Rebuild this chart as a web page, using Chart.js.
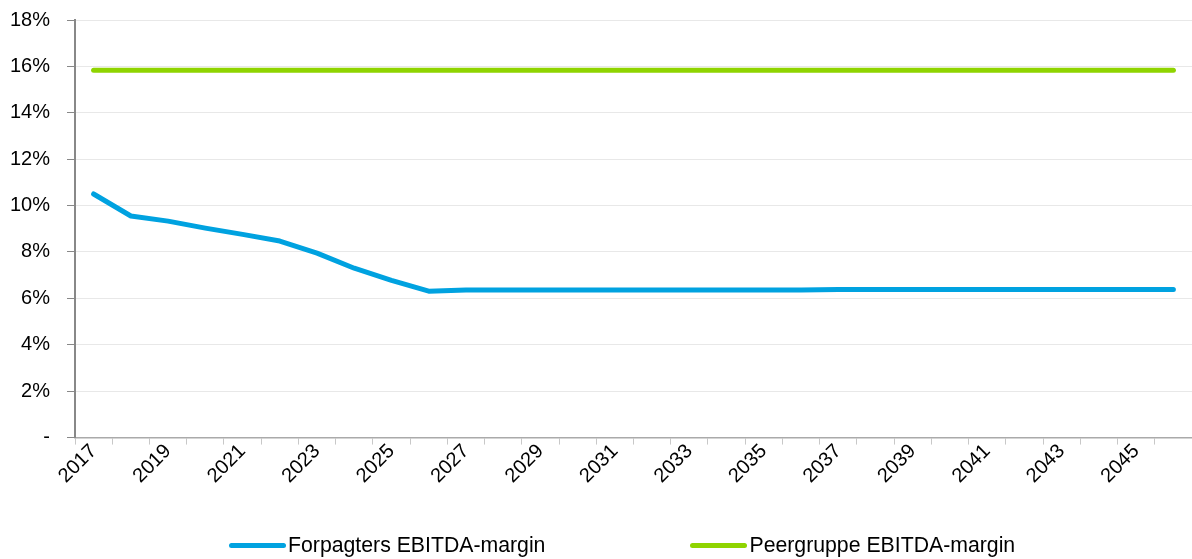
<!DOCTYPE html>
<html>
<head>
<meta charset="utf-8">
<script src="https://cdn.jsdelivr.net/npm/chart.js@4.4.1/dist/chart.umd.min.js"></script>
<style>
  html, body { margin: 0; padding: 0; background: #fff; }
  #wrap { position: relative; width: 1192px; height: 559px; }
  #legend {
    position: absolute; left: 0; top: 531px; width: 1192px; height: 28px;
    display: flex; align-items: center; padding-left: 229px; box-sizing: border-box;
    font-family: "Liberation Sans", Arial, sans-serif; font-size: 21.25px; color: #000;
  }
  #legend .item { display: flex; align-items: center; margin-right: 145px; }
  #legend .mark { width: 57px; height: 5px; border-radius: 3px; margin-right: 2px; }
</style>
</head>
<body>
<div id="wrap">
  <canvas id="marginChart" width="1192" height="559"></canvas>
  <div id="legend"></div>
</div>
<script>
'use strict';
// data
var years = [];
for (var y = 2017; y <= 2046; y++) {
  years.push(String(y));
}
var forpagter = [10.5, 9.55, 9.33, 9.03, 8.76, 8.47, 7.95, 7.3, 6.78, 6.31,
  6.36, 6.36, 6.36, 6.36, 6.36, 6.36, 6.36, 6.36, 6.36, 6.36,
  6.38, 6.38, 6.38, 6.38, 6.38, 6.38, 6.38, 6.38, 6.38, 6.38];
var peergruppe = [];
for (var i = 0; i < years.length; i++) {
  peergruppe.push(15.83);
}
var yTicks = [0, 2, 4, 6, 8, 10, 12, 14, 16, 18];

var blue = '#00a2e0';
var green = '#8fd400';
var font = { family: '"Liberation Sans", Arial, sans-serif', size: 20 };

Chart.defaults.font = font;
Chart.defaults.color = '#000';

var ctx = document.getElementById('marginChart').getContext('2d');
var chart = new Chart(ctx, {
  type: 'line',
  data: {
    labels: years,
    datasets: [{
      label: 'Forpagters EBITDA-margin',
      data: forpagter,
      borderColor: blue,
      backgroundColor: blue,
      borderWidth: 5,
      pointRadius: 0,
      tension: 0,
      borderCapStyle: 'round',
      borderJoinStyle: 'round'
    }, {
      label: 'Peergruppe EBITDA-margin',
      data: peergruppe,
      borderColor: green,
      backgroundColor: green,
      borderWidth: 5,
      pointRadius: 0,
      borderCapStyle: 'round'
    }]
  },
  options: {
    responsive: false,
    animation: false,
    layout: { padding: { left: 10, right: 0, top: 20, bottom: 76 } },
    plugins: {
      tooltip: { enabled: false },
      legend: { display: false }
    },
    scales: {
      x: {
        offset: true,
        afterFit: function(axis) {
          // let the rotated first label hang outside, like the original
          axis.paddingLeft = 0;
          axis.paddingRight = 0;
        },
        grid: {
          offset: true,
          drawOnChartArea: false,
          tickColor: '#c8c8c8',
          tickLength: 7
        },
        border: { color: '#aaa', width: 1.5 },
        ticks: {
          autoSkip: false,
          minRotation: 45,
          maxRotation: 45,
          padding: -5,
          font: font,
          callback: function(value, index) {
            return index % 2 === 0 ? this.getLabelForValue(value) : '';
          }
        }
      },
      y: {
        min: 0,
        max: 18,
        afterBuildTicks: function(axis) {
          axis.ticks = yTicks.map(function(v) { return { value: v }; });
        },
        afterFit: function(axis) {
          axis.width = 65;
          axis.paddingTop = 0;
          axis.paddingBottom = 0;
        },
        grid: {
          color: '#e8e8e8',
          tickColor: '#888',
          tickLength: 8
        },
        border: { color: '#888', width: 2 },
        ticks: {
          padding: 17,
          font: font,
          callback: function(v) {
            return v === 0 ? '-' : v + '%';
          }
        }
      }
    }
  }
});

// legend built from the datasets
var legendEl = document.getElementById('legend');
chart.data.datasets.forEach(function(ds) {
  var item = document.createElement('div');
  item.className = 'item';
  var mark = document.createElement('span');
  mark.className = 'mark';
  mark.style.background = ds.borderColor;
  var txt = document.createElement('span');
  txt.textContent = ds.label;
  item.appendChild(mark);
  item.appendChild(txt);
  legendEl.appendChild(item);
});
</script>
</body>
</html>
